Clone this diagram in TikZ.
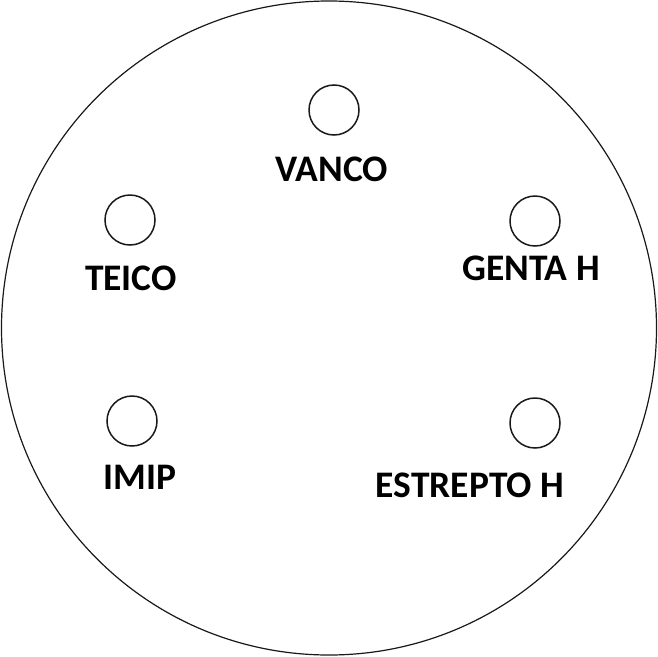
\documentclass[tikz,border=0pt]{standalone}
\usepackage{fontspec}
\setmainfont{Carlito}
\begin{document}
\begin{tikzpicture}[x=1pt,y=-1pt,
  dish/.style={draw=black!90,line width=1.2pt},
  well/.style={circle,draw=black!90,line width=1.5pt,minimum size=50pt,inner sep=0pt},
  lbl/.style={font=\fontsize{37.5}{40}\selectfont\bfseries,inner sep=0pt,anchor=center}]
\useasboundingbox (0,0) rectangle (658,656);
\draw[dish] (329,328) circle [x radius=327.5pt, y radius=327pt];
\node[well] (w1) at (334,110) {};
\node[lbl] (t1) at (332,169) {VANCO};
\node[well] (w2) at (535,221) {};
\node[lbl] (t2) at (531,268) {GENTA H};
\node[well] (w3) at (130,220) {};
\node[lbl] (t3) at (131,278) {TEICO};
\node[well] (w4) at (132,421) {};
\node[lbl] (t4) at (140,477) {IMIP};
\node[well] (w5) at (535,423) {};
\node[lbl] (t5) at (470,485) {ESTREPTO H};
\end{tikzpicture}
\end{document}
